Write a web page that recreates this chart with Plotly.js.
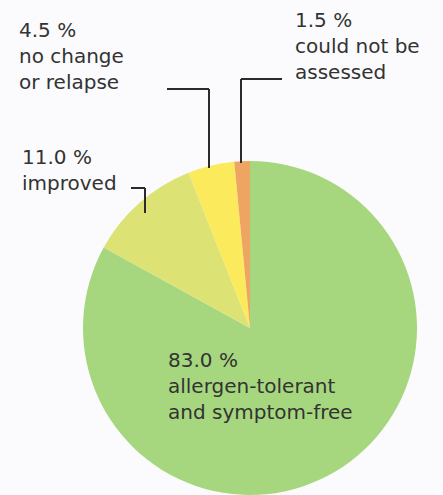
<!DOCTYPE html>
<html>
<head>
<meta charset="utf-8">
<script src="https://cdn.plot.ly/plotly-3.0.1.min.js"></script>
<style>html,body{margin:0;padding:0;background:#fbfbfd;}#chart{width:443px;height:495px;}</style>
</head>
<body>
<div id="chart"></div>
<script>
const categories = ["allergen-tolerant and symptom-free", "improved", "no change or relapse", "could not be assessed"];
const values = [83.0, 11.0, 4.5, 1.5];
const labelTexts = ["83.0 %<br>allergen-tolerant<br>and symptom-free", "11.0 %<br>improved", "4.5 %<br>no change<br>or relapse", "1.5 %<br>could not be<br>assessed"];
const colors = ["#a6d77f", "#dde274", "#fbea5c", "#efa562"];

const W = 443, H = 495;
const M = {l: 83, r: 26, t: 161, b: 0};
const pw = W - M.l - M.r, ph = H - M.t - M.b;
const px = x => (x - M.l) / pw;
const py = y => (H - M.b - y) / ph;

// label anchor positions (pixels, top-left)
const labelPos = [[166, 346], [20, 143], [17, 16], [293, 6]];
const annotations = labelTexts.map((t, i) => ({
  text: t, xref: "paper", yref: "paper",
  x: px(labelPos[i][0]), y: py(labelPos[i][1]),
  xanchor: "left", yanchor: "top", align: "left", showarrow: false,
  font: {family: "DejaVu Sans", size: 20, color: "#333333"}
}));

// leader lines (polyline in pixels)
const leaders = [
  [[282, 79], [241, 79], [241, 163]],
  [[167, 89], [209, 89], [209, 168]],
  [[131, 188], [145, 188], [145, 213]]
];
const shapes = [];
leaders.forEach(pts => {
  for (let k = 0; k < pts.length - 1; k++) {
    shapes.push({type: "line", xref: "paper", yref: "paper",
      x0: px(pts[k][0]), y0: py(pts[k][1]), x1: px(pts[k+1][0]), y1: py(pts[k+1][1]),
      line: {color: "#2b2b2b", width: 2}});
  }
});

Plotly.newPlot("chart", [{
  type: "pie", labels: categories, values: values, sort: false,
  direction: "clockwise", rotation: 0,
  marker: {colors: colors, line: {width: 0}},
  textinfo: "none", hoverinfo: "label+percent", showlegend: false
}], {
  width: W, height: H, margin: M,
  paper_bgcolor: "#fbfbfd", plot_bgcolor: "#fbfbfd",
  showlegend: false, annotations: annotations, shapes: shapes
}, {displayModeBar: false, staticPlot: true});
</script>
</body>
</html>
